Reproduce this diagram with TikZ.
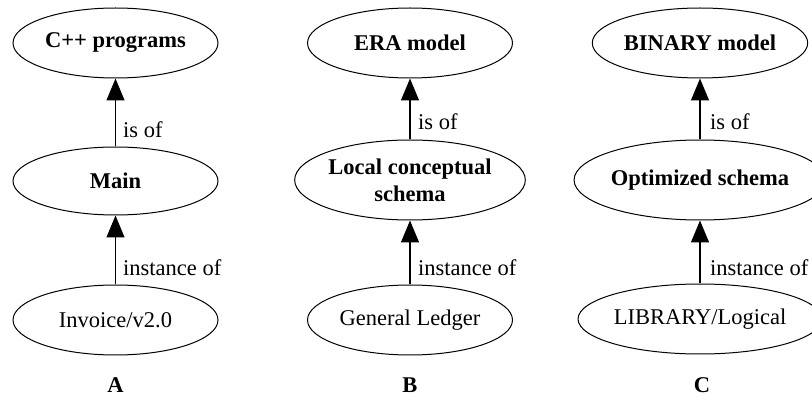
\documentclass[tikz,border=0pt]{standalone}
\usepackage{fontspec}
\setmainfont{Liberation Serif}
\usetikzlibrary{shapes.geometric,arrows.meta}
\begin{document}
\begin{tikzpicture}[x=1pt,y=-1pt,
  every node/.style={font=\fontsize{22.5}{27}\selectfont},
  ell/.style={ellipse,draw,line width=1pt,minimum width=205pt,minimum height=70pt,inner sep=0pt,align=center},
  ellbig/.style={ell,minimum height=80pt},
  ellmid/.style={ell,minimum height=68pt},
  arr/.style={line width=1.4pt,-{Triangle[length=22pt,width=18pt]}},
  elab/.style={anchor=west,inner sep=0pt},
  grouplabel/.style={font=\fontsize{22.5}{27}\selectfont\bfseries}]
\useasboundingbox (0,0) rectangle (812,398);
% A
\node[ell] (a1) at (115.5,43) {\textbf{C++ programs}};
\node[ellmid] (a2) at (115.5,181) {\textbf{Main}};
\node[ell] (a3) at (115.5,320) {Invoice/v2.0};
\node[grouplabel] (la) at (115.5,385) {A};
\draw[arr] (a2) -- (a1);
\draw[arr] (a3) -- (a2);
\node[elab] (ta1) at (123,130) {is of};
\node[elab] (ta2) at (123,268) {instance of};
% B
\node[ell] (b1) at (410,43) {\textbf{ERA model}};
\node[ellbig] (b2) at (410,180) {\textbf{Local conceptual}\\\textbf{schema}};
\node[ell] (b3) at (410,320) {General Ledger};
\node[grouplabel] (lb) at (410,385) {B};
\draw[arr] (b2) -- (b1);
\draw[arr] (b3) -- (b2);
\node[elab] (tb1) at (418,122) {is of};
\node[elab] (tb2) at (418,268) {instance of};
% C
\node[ell] (c1) at (700,43) {\textbf{BINARY model}};
\node[ellbig] (c2) at (700,180) {\textbf{Optimized schema}};
\node[ell] (c3) at (700,319) {LIBRARY/Logical};
\node[grouplabel] (lc) at (702,385) {C};
\draw[arr] (c2) -- (c1);
\draw[arr] (c3) -- (c2);
\node[elab] (tc1) at (710,122) {is of};
\node[elab] (tc2) at (710,268) {instance of};
\end{tikzpicture}
\end{document}
